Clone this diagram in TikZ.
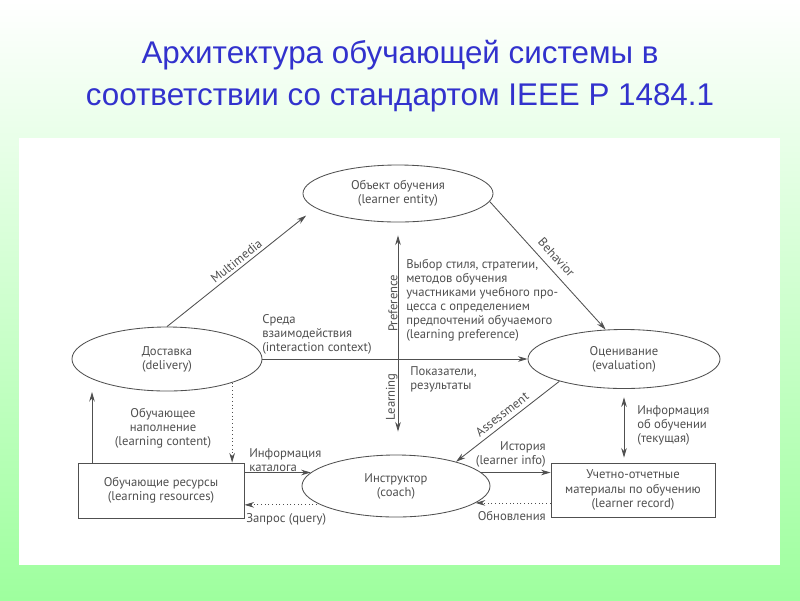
\documentclass[tikz,border=0pt]{standalone}
\usepackage{fontspec}
\setmainfont{PT Sans}
\newfontfamily\titlefont{Liberation Sans}
\usepackage{tikz}
\usetikzlibrary{arrows.meta, shapes.geometric, calc}
\definecolor{titleblue}{RGB}{50,50,205}
\definecolor{bggreen}{RGB}{158,255,158}
\definecolor{ink}{RGB}{80,80,80}

\begin{document}
\begin{tikzpicture}[x=0.025cm, y=-0.025cm,
  font=\fontsize{9}{10}\selectfont,
  oval/.style={draw=ink, line width=0.6pt, ellipse, align=center, inner sep=0pt, text=ink},
  box/.style={draw=ink, line width=0.6pt, rectangle, align=center, inner sep=0pt, text=ink},
  lbl/.style={text=ink, inner sep=0pt},
  arr/.style={draw=ink, line width=0.6pt, -{Stealth[length=2.4mm, width=1.4mm]}},
  arrtwo/.style={draw=ink, line width=0.6pt, {Stealth[length=2.4mm, width=1.4mm]}-{Stealth[length=2.4mm, width=1.4mm]}},
  dots/.style={arr, dotted}]
  % Fond et panneau
  \shade[top color=white, bottom color=bggreen] (0,0) rectangle (800,600);
  \fill[white] (19,138) rectangle (780,565);
  \node[font=\titlefont\fontsize{22.3}{29.8}\selectfont, text=titleblue, align=center] (title) at (400,76)
    {Архитектура обучающей системы в\\соответствии со стандартом IEEE P 1484.1};

  % Узлы
  \node[oval, minimum width=4.75cm, minimum height=1.425cm] (learner) at (398,193.5) {Объект обучения\\(learner entity)};
  \node[oval, minimum width=4.75cm, minimum height=1.6cm] (deliv) at (167,359) {Доставка\\(delivery)};
  \node[oval, minimum width=4.8cm, minimum height=1.475cm] (evalu) at (624,359) {Оценивание\\(evaluation)};
  \node[oval, minimum width=4.7cm, minimum height=1.55cm] (coach) at (396,486) {Инструктор\\(coach)};
  \node[box, minimum width=4.15cm, minimum height=1.375cm] (res) at (161,490.5) {Обучающие ресурсы\\(learning resources)};
  \node[box, minimum width=4.1cm, minimum height=1.35cm] (rec) at (633,490) {Учетно-отчетные\\материалы по обучению\\(learner record)};

  % Верхний треугольник
  \draw[arr, shorten >=0.3cm] (deliv.north) -- (learner.190) node[midway, above=2pt, sloped, lbl]{Multimedia};
  \draw[arr] (learner.-5) -- (evalu.122) node[pos=0.5, above=5pt, sloped, lbl]{Behavior};
  \draw[arrtwo, shorten <=0.575cm, shorten >=0.325cm] (learner.south |- coach.north) -- (learner.south)
    node[pos=0.652, rotate=90, anchor=south, inner sep=3pt, lbl]{Preference}
    node[pos=0.249, rotate=90, anchor=south, inner sep=3pt, lbl]{Learning};
  \draw[arr] (deliv.east) -- (evalu.west);
  \draw[arr] (evalu.199) -- (coach.22) node[midway, above=3pt, sloped, lbl]{Assessment};

  % Подписи в центре
  \node[lbl, align=left, anchor=south west] (ctx) at (262,355) {Среда\\взаимодействия\\(interaction context)};
  \node[lbl, align=left, anchor=south west] (pref) at (406,342) {Выбор стиля, стратегии,\\методов обучения\\участниками учебного про-\\цесса с определением\\предпочтений обучаемого\\(learning preference)};
  \node[lbl, align=left, anchor=north west] (score) at (410,366) {Показатели,\\результаты};

  % Ресурсы и доставка
  \coordinate (cin) at (92,392);
  \draw[arr] (res.north -| cin) -- (cin);
  \draw[dots] (deliv.-20) -- (deliv.-20 |- res.north);
  \node[lbl, align=center] (content) at (163,428) {Обучающее\\наполнение\\(learning content)};
  \draw[arr] (res.east |- coach.171) -- (coach.171);
  \draw[dots] (coach.194) -- (res.east |- coach.194);
  \node[lbl, align=left, anchor=south west] (catal) at (249,472) {Информация\\каталога};
  \node[lbl, anchor=north west] (query) at (246,513) {Запрос (query)};

  % Инструктор и учёт
  \draw[arr] (coach.9) -- (rec.west |- coach.9);
  \draw[dots] (rec.west |- coach.-12) -- (coach.-12);
  \node[lbl, align=right, anchor=south east] (hist) at (546,468) {История\\(learner info)};
  \node[lbl, anchor=north east] (upd) at (546,511) {Обновления};
  \draw[arrtwo, shorten <=0.125cm, shorten >=0.21cm] (evalu.south |- rec.north) -- (evalu.south);
  \node[lbl, align=left, anchor=north west] (info) at (637,405) {Информация\\об обучении\\(текущая)};
\end{tikzpicture}
\end{document}
